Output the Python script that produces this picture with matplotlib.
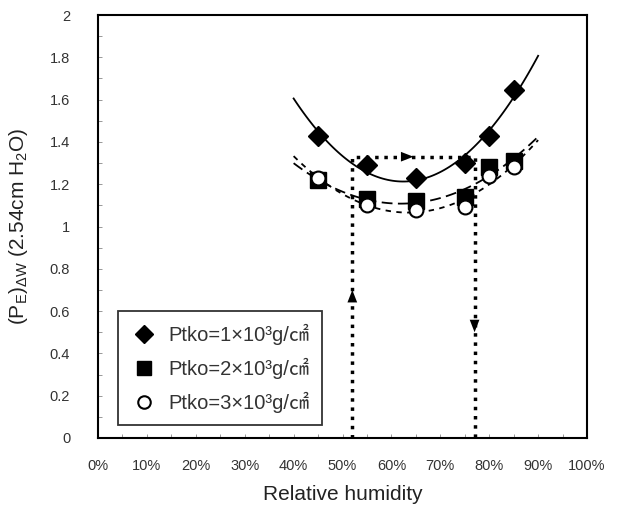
import matplotlib
matplotlib.use("Agg")
import matplotlib.pyplot as plt
import numpy as np
from matplotlib.ticker import MultipleLocator, PercentFormatter

plt.rcParams["font.family"] = ["Liberation Sans", "Noto Sans CJK KR", "DejaVu Sans"]
plt.rcParams["mathtext.fontset"] = "custom"
plt.rcParams["mathtext.rm"] = "Liberation Sans"
plt.rcParams["mathtext.it"] = "Liberation Sans"

# relative humidity (fraction)
rh = np.array([0.45, 0.55, 0.65, 0.75, 0.80, 0.85])
p1 = np.array([1.43, 1.29, 1.23, 1.30, 1.43, 1.645])
p2 = np.array([1.22, 1.13, 1.12, 1.14, 1.28, 1.31])
p3 = np.array([1.23, 1.10, 1.08, 1.09, 1.24, 1.28])
labels = ["Ptko=1×10³g/㎠", "Ptko=2×10³g/㎠", "Ptko=3×10³g/㎠"]

# dotted guide path
guide_x = [0.52, 0.52, 0.77, 0.77]
guide_y = [0.0, 1.33, 1.33, 0.0]

fig = plt.figure(figsize=(6.18, 5.11), dpi=100)
ax = fig.add_axes([0.1586, 0.1429, 0.7913, 0.8277])

xs = np.linspace(0.40, 0.90, 100)
ax.plot(xs, np.polyval(np.polyfit(rh, p1, 2), xs), color="black", lw=1.3)
ax.plot(xs, np.polyval(np.polyfit(rh, p2, 2), xs), color="black", lw=1.3,
        dashes=(6, 3))
ax.plot(xs, np.polyval(np.polyfit(rh, p3, 2), xs), color="black", lw=1.3,
        dashes=(3, 3))

ax.plot(guide_x, guide_y, color="black", lw=2.5, ls=":")
arrow = dict(arrowstyle="-|>,head_length=0.9,head_width=0.35", color="black",
             lw=0, mutation_scale=10, shrinkA=0, shrinkB=0)
ax.annotate("", xy=(guide_x[0], 0.70), xytext=(guide_x[0], 0.60), arrowprops=arrow)
ax.annotate("", xy=(0.645, guide_y[1]), xytext=(0.60, guide_y[1]), arrowprops=arrow)
ax.annotate("", xy=(guide_x[3], 0.50), xytext=(guide_x[3], 0.60), arrowprops=arrow)

ax.plot(rh, p1, ls="none", marker="D", ms=10, color="black", label=labels[0])
ax.plot(rh, p2, ls="none", marker="s", ms=11, color="black", label=labels[1])
ax.plot(rh, p3, ls="none", marker="o", ms=10, mfc="white", mec="black",
        mew=1.5, label=labels[2])

ax.set_xlim(0, 1)
ax.set_ylim(0, 2)
ax.xaxis.set_major_locator(MultipleLocator(0.1))
ax.xaxis.set_minor_locator(MultipleLocator(0.05))
ax.xaxis.set_major_formatter(PercentFormatter(1.0, decimals=0))
ax.yaxis.set_major_locator(MultipleLocator(0.2))
ax.yaxis.set_minor_locator(MultipleLocator(0.1))
ax.yaxis.set_major_formatter(lambda v, pos: f"{v:g}")
ax.tick_params(which="both", direction="in", length=3, width=0.6,
               color="#888888", labelsize=10.5, labelcolor="#333333")
ax.tick_params(axis="x", pad=15)
ax.tick_params(axis="y", pad=20)
for s in ax.spines.values():
    s.set_linewidth(1.5)

ax.set_xlabel("Relative humidity", fontsize=15, color="#222222", labelpad=9)
ax.set_ylabel(r"(P$_{\mathrm{E}}$)$_{\Delta\mathrm{W}}$ (2.54cm H$_{2}$O)",
              fontsize=15, color="#222222", labelpad=14)

leg = ax.legend(loc="lower left", bbox_to_anchor=(0.041, 0.03), borderaxespad=0,
                frameon=True, fancybox=False, edgecolor="black", fontsize=14.5,
                handlelength=1.4, handletextpad=0.5, labelspacing=0.65,
                borderpad=0.6, markerscale=0.9)
leg.get_frame().set_linewidth(1.3)
for t in leg.get_texts():
    t.set_color("#333333")

fig.savefig("out.png", dpi=100)
